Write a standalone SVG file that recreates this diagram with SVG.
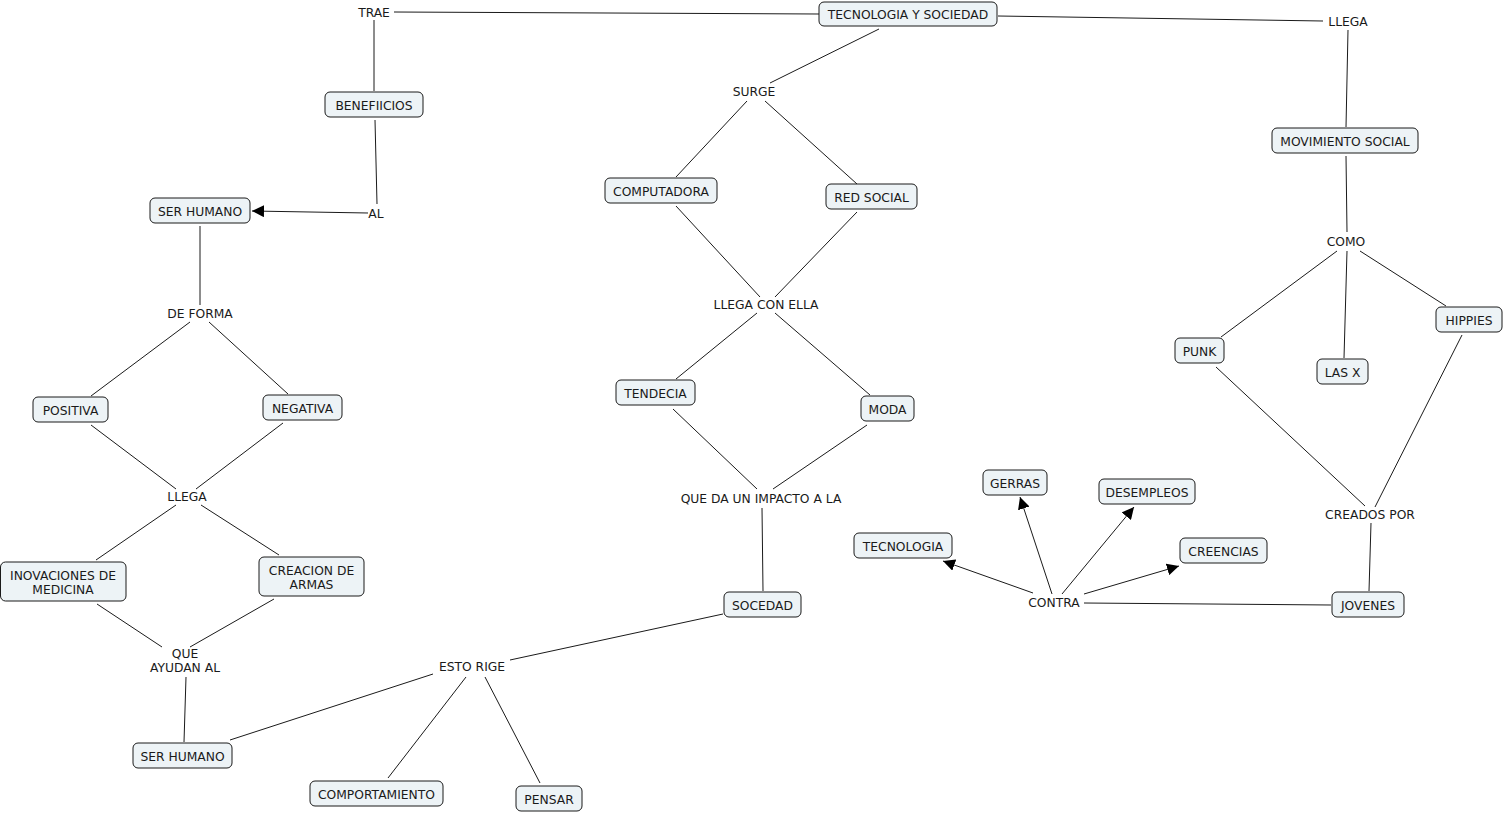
<svg xmlns="http://www.w3.org/2000/svg" width="1505" height="813" viewBox="0 0 1505 813">
<style>
.n rect{fill:#edf3f6;stroke:#1a1a1a;stroke-width:1;}
text{font-family:"DejaVu Sans",Verdana,sans-serif;font-size:12.3px;fill:#1a1a1a;text-anchor:middle;dominant-baseline:central;transform:translateY(1px);}
.c line{stroke:#1a1a1a;stroke-width:1;fill:none;}
</style>
<defs>
<marker id="ah" viewBox="0 0 10 10" refX="10" refY="5" markerWidth="12" markerHeight="12" markerUnits="userSpaceOnUse" orient="auto">
<path d="M0,0 L10,5 L0,10 Z" fill="#000"/>
</marker>
</defs>
<rect x="0" y="0" width="1505" height="813" fill="#fff"/>
<g id="connectors" class="c">
<line x1="394" y1="12" x2="819" y2="14"/>
<line x1="998" y1="16" x2="1323" y2="21"/>
<line x1="1348" y1="30" x2="1346" y2="127"/>
<line x1="1346" y1="156" x2="1347" y2="232"/>
<line x1="1337" y1="251" x2="1221" y2="337"/>
<line x1="1347" y1="251" x2="1344" y2="358"/>
<line x1="1360" y1="251" x2="1446" y2="306"/>
<line x1="1216" y1="367" x2="1365" y2="506"/>
<line x1="1462" y1="335" x2="1375" y2="507"/>
<line x1="1371" y1="523" x2="1369" y2="591"/>
<line x1="1331" y1="605" x2="1084" y2="603"/>
<line x1="1033" y1="593" x2="943" y2="561" marker-end="url(#ah)"/>
<line x1="1052" y1="594" x2="1020" y2="497" marker-end="url(#ah)"/>
<line x1="1062" y1="594" x2="1134" y2="507" marker-end="url(#ah)"/>
<line x1="1084" y1="594" x2="1179" y2="566" marker-end="url(#ah)"/>
<line x1="879" y1="29" x2="770" y2="83"/>
<line x1="747" y1="101" x2="676" y2="177"/>
<line x1="765" y1="101" x2="857" y2="184"/>
<line x1="676" y1="206" x2="760" y2="297"/>
<line x1="857" y1="212" x2="775" y2="297"/>
<line x1="757" y1="313" x2="676" y2="379"/>
<line x1="775" y1="313" x2="870" y2="395"/>
<line x1="673" y1="409" x2="757" y2="489"/>
<line x1="867" y1="425" x2="773" y2="489"/>
<line x1="762" y1="508" x2="763" y2="591"/>
<line x1="723" y1="614" x2="510" y2="660"/>
<line x1="433" y1="674" x2="230" y2="740"/>
<line x1="466" y1="677" x2="388" y2="778"/>
<line x1="485" y1="677" x2="540" y2="783"/>
<line x1="186" y1="677" x2="184" y2="742"/>
<line x1="97" y1="604" x2="162" y2="647"/>
<line x1="274" y1="599" x2="190" y2="647"/>
<line x1="176" y1="505" x2="96" y2="560"/>
<line x1="201" y1="505" x2="279" y2="555"/>
<line x1="91" y1="425" x2="176" y2="489"/>
<line x1="283" y1="423" x2="196" y2="489"/>
<line x1="190" y1="322" x2="91" y2="396"/>
<line x1="209" y1="322" x2="288" y2="394"/>
<line x1="200" y1="226" x2="200" y2="305"/>
<line x1="368" y1="213" x2="252" y2="211" marker-end="url(#ah)"/>
<line x1="375" y1="120" x2="377" y2="204"/>
<line x1="374" y1="20" x2="374" y2="91"/>
</g>
<g id="labels">
<text id="l-trae" x="374" y="12">TRAE</text>
<text id="l-llega1" x="1348" y="21">LLEGA</text>
<text id="l-surge" x="754" y="91">SURGE</text>
<text id="l-al" x="376" y="213">AL</text>
<text id="l-como" x="1346" y="241">COMO</text>
<text id="l-deforma" x="200" y="313">DE FORMA</text>
<text id="l-llegacon" x="766" y="304">LLEGA CON ELLA</text>
<text id="l-llega2" x="187" y="496">LLEGA</text>
<text id="l-queda" x="761" y="498">QUE DA UN IMPACTO A LA</text>
<text id="l-creados" x="1370" y="514">CREADOS POR</text>
<text id="l-contra" x="1054" y="602">CONTRA</text>
<text id="l-que" x="185" y="653">QUE</text>
<text x="185" y="667">AYUDAN AL</text>
<text id="l-esto" x="472" y="666">ESTO RIGE</text>
</g>
<g id="n-tys" class="n"><rect x="819" y="2" width="178" height="24" rx="5"/><text x="908" y="14">TECNOLOGIA Y SOCIEDAD</text></g>
<g id="n-benef" class="n"><rect x="325" y="92" width="98" height="25" rx="5"/><text x="374" y="104.5">BENEFIICIOS</text></g>
<g id="n-ser1" class="n"><rect x="150" y="198" width="100" height="25" rx="5"/><text x="200" y="210.5">SER HUMANO</text></g>
<g id="n-comp" class="n"><rect x="605" y="178" width="112" height="25" rx="5"/><text x="661" y="190.5">COMPUTADORA</text></g>
<g id="n-red" class="n"><rect x="826" y="184" width="91" height="25" rx="5"/><text x="871.5" y="196.5">RED SOCIAL</text></g>
<g id="n-mov" class="n"><rect x="1272" y="128" width="146" height="25" rx="5"/><text x="1345" y="140.5">MOVIMIENTO SOCIAL</text></g>
<g id="n-hip" class="n"><rect x="1436" y="307" width="66" height="25" rx="5"/><text x="1469" y="319.5">HIPPIES</text></g>
<g id="n-punk" class="n"><rect x="1175" y="338" width="49" height="25" rx="5"/><text x="1199.5" y="350.5">PUNK</text></g>
<g id="n-lasx" class="n"><rect x="1317" y="359" width="51" height="25" rx="5"/><text x="1342.5" y="371.5">LAS X</text></g>
<g id="n-pos" class="n"><rect x="33" y="397" width="75" height="25" rx="5"/><text x="70.5" y="409.5">POSITIVA</text></g>
<g id="n-neg" class="n"><rect x="263" y="395" width="79" height="25" rx="5"/><text x="302.5" y="407.5">NEGATIVA</text></g>
<g id="n-tend" class="n"><rect x="616" y="380" width="79" height="25" rx="5"/><text x="655.5" y="392.5">TENDECIA</text></g>
<g id="n-moda" class="n"><rect x="861" y="396" width="53" height="25" rx="5"/><text x="887.5" y="408.5">MODA</text></g>
<g id="n-gerras" class="n"><rect x="983" y="470" width="64" height="25" rx="5"/><text x="1015" y="482.5">GERRAS</text></g>
<g id="n-desem" class="n"><rect x="1099" y="479" width="96" height="25" rx="5"/><text x="1147" y="491.5">DESEMPLEOS</text></g>
<g id="n-tec" class="n"><rect x="854" y="533" width="98" height="25" rx="5"/><text x="903" y="545.5">TECNOLOGIA</text></g>
<g id="n-cree" class="n"><rect x="1180" y="538" width="87" height="25" rx="5"/><text x="1223.5" y="550.5">CREENCIAS</text></g>
<g id="n-inov" class="n"><rect x="0.5" y="562" width="125.5" height="39" rx="5"/><text x="63" y="574.5">INOVACIONES DE</text><text x="63" y="589">MEDICINA</text></g>
<g id="n-crea" class="n"><rect x="259" y="557" width="105" height="39" rx="5"/><text x="311.5" y="569.5">CREACION DE</text><text x="311.5" y="584">ARMAS</text></g>
<g id="n-soc" class="n"><rect x="724" y="592" width="77" height="25" rx="5"/><text x="762.5" y="604.5">SOCEDAD</text></g>
<g id="n-jov" class="n"><rect x="1332" y="592" width="72" height="25" rx="5"/><text x="1368" y="604.5">JOVENES</text></g>
<g id="n-ser2" class="n"><rect x="133" y="743" width="99" height="25" rx="5"/><text x="182.5" y="755.5">SER HUMANO</text></g>
<g id="n-compo" class="n"><rect x="310" y="781" width="133" height="25" rx="5"/><text x="376.5" y="793.5">COMPORTAMIENTO</text></g>
<g id="n-pensar" class="n"><rect x="516" y="786" width="66" height="25" rx="5"/><text x="549" y="798.5">PENSAR</text></g>
</svg>
